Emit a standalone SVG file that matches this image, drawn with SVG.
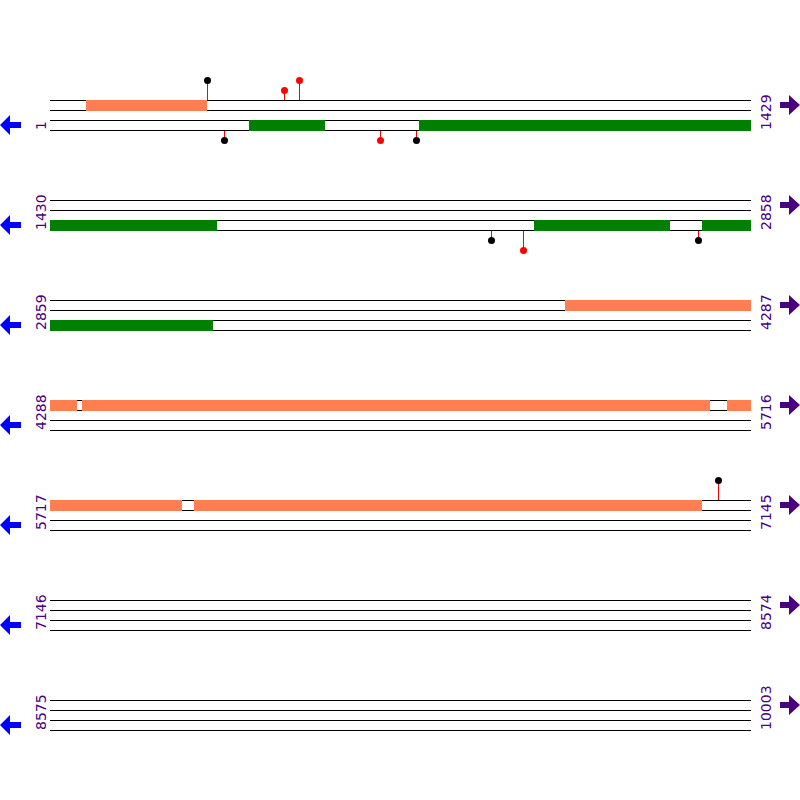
<svg xmlns="http://www.w3.org/2000/svg" width="800" height="800" viewBox="0 0 800 800">
<style>
.ln{stroke:#000;stroke-width:1;fill:none}
.or{fill:#FF7F50}
.gr{fill:#008000}
.st{stroke:#FF0000;stroke-width:1}
.bk{fill:#000}
.rd{fill:#FF0000}
.lab{font-family:"DejaVu Sans",sans-serif;font-size:14px;fill:#4B0082}
.la{fill:#0000FF}
.ra{fill:#4B0082}
</style>
<defs>
<g id="lines">
<line class="ln" x1="50" y1="0.5" x2="751" y2="0.5"/>
<line class="ln" x1="50" y1="10.5" x2="751" y2="10.5"/>
<line class="ln" x1="50" y1="20.5" x2="751" y2="20.5"/>
<line class="ln" x1="50" y1="30.5" x2="751" y2="30.5"/>
</g>
<polygon id="larrow" points="0,25 10,15 10,22 21,22 21,28 10,28 10,35"/>
<polygon id="rarrow" points="780,2 789,2 789,-5 800,5 789,15 789,8 780,8"/>
</defs>

<g id="row1">
<use href="#lines" y="100"/>
<rect class="or" x="86" y="100" width="121" height="11"/>
<rect class="gr" x="249" y="120" width="76" height="11"/>
<rect class="gr" x="419" y="120" width="332" height="11"/>
<use class="la" href="#larrow" y="100"/>
<use class="ra" href="#rarrow" y="100"/>
<text class="lab" transform="translate(46,130) rotate(-90)">1</text>
<text class="lab" transform="translate(771,130) rotate(-90)">1429</text>
</g>

<g id="row2">
<use href="#lines" y="200"/>
<rect class="gr" x="50" y="220" width="167" height="11"/>
<rect class="gr" x="534" y="220" width="136" height="11"/>
<rect class="gr" x="702" y="220" width="49" height="11"/>
<use class="la" href="#larrow" y="200"/>
<use class="ra" href="#rarrow" y="200"/>
<text class="lab" transform="translate(46,230) rotate(-90)">1430</text>
<text class="lab" transform="translate(771,230) rotate(-90)">2858</text>
</g>

<g id="row3">
<use href="#lines" y="300"/>
<rect class="or" x="565" y="300" width="186" height="11"/>
<rect class="gr" x="50" y="320" width="163" height="11"/>
<use class="la" href="#larrow" y="300"/>
<use class="ra" href="#rarrow" y="300"/>
<text class="lab" transform="translate(46,330) rotate(-90)">2859</text>
<text class="lab" transform="translate(771,330) rotate(-90)">4287</text>
</g>

<g id="row4">
<use href="#lines" y="400"/>
<rect class="or" x="50" y="400" width="27" height="11"/>
<rect class="or" x="82" y="400" width="628" height="11"/>
<rect class="or" x="727" y="400" width="24" height="11"/>
<use class="la" href="#larrow" y="400"/>
<use class="ra" href="#rarrow" y="400"/>
<text class="lab" transform="translate(46,430) rotate(-90)">4288</text>
<text class="lab" transform="translate(771,430) rotate(-90)">5716</text>
</g>

<g id="row5">
<use href="#lines" y="500"/>
<rect class="or" x="50" y="500" width="132" height="11"/>
<rect class="or" x="194" y="500" width="508" height="11"/>
<use class="la" href="#larrow" y="500"/>
<use class="ra" href="#rarrow" y="500"/>
<text class="lab" transform="translate(46,530) rotate(-90)">5717</text>
<text class="lab" transform="translate(771,530) rotate(-90)">7145</text>
</g>

<g id="row6">
<use href="#lines" y="600"/>
<use class="la" href="#larrow" y="600"/>
<use class="ra" href="#rarrow" y="600"/>
<text class="lab" transform="translate(46,630) rotate(-90)">7146</text>
<text class="lab" transform="translate(771,630) rotate(-90)">8574</text>
</g>

<g id="row7">
<use href="#lines" y="700"/>
<use class="la" href="#larrow" y="700"/>
<use class="ra" href="#rarrow" y="700"/>
<text class="lab" transform="translate(46,730) rotate(-90)">8575</text>
<text class="lab" transform="translate(771,730) rotate(-90)">10003</text>
</g>

<g id="connectors">
<line class="st" x1="207.5" y1="100" x2="207.5" y2="80"/>
<line class="st" x1="284.5" y1="100" x2="284.5" y2="90"/>
<line class="st" x1="299.5" y1="100" x2="299.5" y2="80"/>
<line class="st" x1="224.5" y1="131" x2="224.5" y2="140"/>
<line class="st" x1="380.5" y1="131" x2="380.5" y2="140"/>
<line class="st" x1="416.5" y1="131" x2="416.5" y2="140"/>
<line class="st" x1="491.5" y1="231" x2="491.5" y2="240"/>
<line class="st" x1="523.5" y1="231" x2="523.5" y2="250"/>
<line class="st" x1="698.5" y1="231" x2="698.5" y2="240"/>
<line class="st" x1="718.5" y1="500" x2="718.5" y2="480"/>
</g>

<g id="markers">
<circle class="bk" cx="207.5" cy="80.5" r="3.5"/>
<circle class="rd" cx="284.5" cy="90.5" r="3.5"/>
<circle class="rd" cx="299.5" cy="80.5" r="3.5"/>
<circle class="bk" cx="224.5" cy="140.5" r="3.5"/>
<circle class="rd" cx="380.5" cy="140.5" r="3.5"/>
<circle class="bk" cx="416.5" cy="140.5" r="3.5"/>
<circle class="bk" cx="491.5" cy="240.5" r="3.5"/>
<circle class="rd" cx="523.5" cy="250.5" r="3.5"/>
<circle class="bk" cx="698.5" cy="240.5" r="3.5"/>
<circle class="bk" cx="718.5" cy="480.5" r="3.5"/>
</g>
</svg>
